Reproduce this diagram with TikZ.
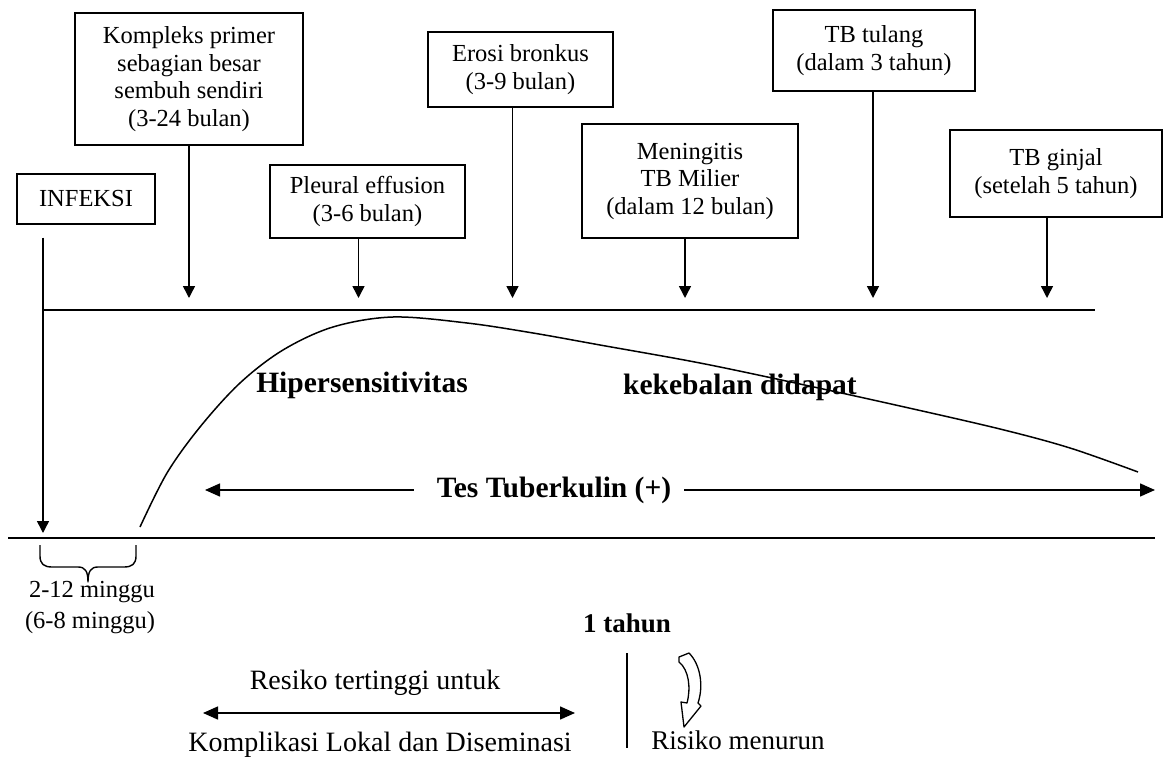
\documentclass[tikz,border=0pt]{standalone}
\usepackage{fontspec}
\setmainfont{Liberation Serif}
\usetikzlibrary{arrows.meta,calc}
\newcommand\bxfont{\fontsize{24.5}{27.5}\selectfont}
\newcommand\lbfont{\fontsize{28}{32}\selectfont}
\newcommand\bdfont{\fontsize{29.5}{33}\selectfont\bfseries}
\begin{document}
\begin{tikzpicture}[x=1pt,y=-1pt,
  ln/.style={line width=1.5pt},
  box/.style={draw, line width=1.5pt, align=center, inner sep=0pt, font=\bxfont},
  arr/.style={ln, -{Triangle[length=12pt,width=12pt]}},
  harr/.style={ln, -{Triangle[length=15pt,width=13pt]}},
  darr/.style={ln, {Triangle[length=15pt,width=13pt]}-{Triangle[length=15pt,width=13pt]}},
  lbl/.style={inner sep=0pt, font=\lbfont},
  sml/.style={inner sep=0pt, font=\bxfont},
  bld/.style={inner sep=0pt, font=\bdfont}]
\useasboundingbox (0,0) rectangle (1166,759);

% event boxes
\node[box, minimum width=228pt, minimum height=132pt] (komp) at (189,79)
  {Kompleks primer\\sebagian besar\\sembuh sendiri\\(3-24 bulan)};
\node[box, minimum width=138pt, minimum height=50pt] (inf) at (86,199) {INFEKSI};
\node[box, minimum width=195pt, minimum height=73pt] (pleu) at (367.5,201.5)
  {Pleural effusion\\(3-6 bulan)};
\node[box, minimum width=185pt, minimum height=75pt] (eros) at (520.5,69.5)
  {Erosi bronkus\\(3-9 bulan)};
\node[box, minimum width=216pt, minimum height=114pt] (men) at (690,181)
  {Meningitis\\TB Milier\\(dalam 12 bulan)};
\node[box, minimum width=202pt, minimum height=81pt] (tul) at (874,50.5)
  {TB tulang\\(dalam 3 tahun)};
\node[box, minimum width=212pt, minimum height=87pt] (ginj) at (1056,173.5)
  {TB ginjal\\(setelah 5 tahun)};

% upper and lower time lines
\coordinate (tl0) at (43,310);
\coordinate (tl1) at (1095,310);
\coordinate (bl0) at (8,538);
\coordinate (bl1) at (1155,538);
\coordinate (tipy) at (0,298);
\coordinate (infend) at (43,533);
\draw[ln] (tl0) -- (tl1);
\draw[ln] (bl0) -- (bl1);

% arrows from the boxes onto the upper line
\draw[arr] (komp.south) -- (komp.south |- tipy);
\draw[arr] ([xshift=-9pt]pleu.south) -- ([xshift=-9pt]pleu.south |- tipy);
\draw[arr] ([xshift=-8pt]eros.south) -- ([xshift=-8pt]eros.south |- tipy);
\draw[arr] ([xshift=-5pt]men.south) -- ([xshift=-5pt]men.south |- tipy);
\draw[arr] ([xshift=-1pt]tul.south) -- ([xshift=-1pt]tul.south |- tipy);
\draw[arr] ([xshift=-9pt]ginj.south) -- ([xshift=-9pt]ginj.south |- tipy);
\draw[arr, shorten <=13pt] (inf.south -| tl0) -- (infend);

% hypersensitivity curve
\draw[ln] plot[smooth, tension=0.55] coordinates {
  (140,527) (167,473) (200,427) (240,383) (283,350) (333,327) (393,317)
  (467,323) (533,333) (600,345) (700,363) (800,384) (900,406) (1000,429)
  (1070,448) (1138,472)};

\node[bld] (hip) at (362,385) {Hipersensitivitas};
\node[bld] (keb) at (740,387) {kekebalan didapat};

% tuberculin test span
\node[bld] (tes) at (554,490) {Tes Tuberkulin (+)};
\coordinate (tesL) at (205,490);
\coordinate (tesR) at (1155,490);
\draw[harr, shorten <=23pt] (tes.west) -- (tesL);
\draw[harr, shorten <=13pt] (tes.east) -- (tesR);

% incubation brace
\draw[line width=1.4pt, line join=round]
  (40,545) -- (40,556) .. controls (40,564) and (44,567) .. (52,567) -- (78,567)
  .. controls (85,567) and (88,571) .. (88,582)
  .. controls (88,571) and (91,567) .. (98,567) -- (124,567)
  .. controls (132,567) and (136,564) .. (136,556) -- (136,545);
\node[sml] (inc1) at (92,592) {2-12 minggu};
\node[sml] (inc2) at (90,623) {(6-8 minggu)};

% one-year mark and risk notes
\node[bld, font=\fontsize{27}{30}\selectfont\bfseries] (thn) at (627,623) {1 tahun};
\coordinate (vm0) at (627,653);
\coordinate (vm1) at (627,748);
\draw[line width=1.3pt] (vm0) -- (vm1);

\node[lbl] (res) at (375,683) {Resiko tertinggi untuk};
\coordinate (rl) at (203,713);
\coordinate (rr) at (575,713);
\draw[darr] (rl) -- (rr);
\node[lbl] (kom) at (380,745) {Komplikasi Lokal dan Diseminasi};

% hollow curved arrow
\draw[line width=1.3pt, line join=round, fill=white]
  (679,657) -- (689,653)
  .. controls (700,664) and (704,685) .. (698,703)
  -- (701,706) -- (684,727) -- (681,702) -- (687,703)
  .. controls (691,688) and (689,670) .. (679,662) -- cycle;
\node[font=\fontsize{27}{30}\selectfont, inner sep=0pt] (men2) at (738,740) {Risiko menurun};
\end{tikzpicture}
\end{document}
